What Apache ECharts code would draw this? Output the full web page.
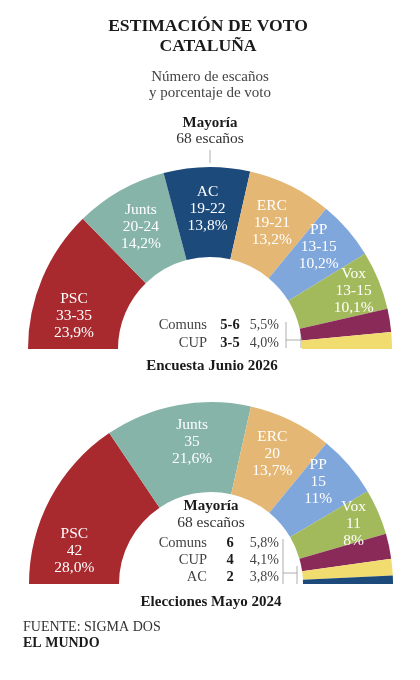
<!DOCTYPE html>
<html>

<head>
    <meta charset="utf-8">
    <title>Estimación de voto Cataluña</title>
    <script src="https://cdn.jsdelivr.net/npm/echarts@6.0.0/dist/echarts.min.js"></script>
    <style>
        html, body { margin: 0; padding: 0; background: #fff; }
    </style>
</head>

<body>
    <div id="main" style="width: 420px;height:680px;"></div>
    <script type="text/javascript">
        // datos: encuesta junio 2026
        var parties2026 = ['PSC', 'Junts', 'AC', 'ERC', 'PP', 'Vox', 'Comuns', 'CUP'];
        var seatsLow2026 = [33, 20, 19, 19, 13, 13, 5, 3];
        var seatsHigh2026 = [35, 24, 22, 21, 15, 15, 6, 5];
        var votes2026 = ['23,9%', '14,2%', '13,8%', '13,2%', '10,2%', '10,1%', '5,5%', '4,0%'];

        // datos: elecciones mayo 2024
        var parties2024 = ['PSC', 'Junts', 'ERC', 'PP', 'Vox', 'Comuns', 'CUP', 'AC'];
        var seats2024 = [42, 35, 20, 15, 11, 6, 4, 2];
        var votes2024 = ['28,0%', '21,6%', '13,7%', '11%', '8%', '5,8%', '4,1%', '3,8%'];

        var majority = 68;

        var colors = {
            PSC: '#a8292e',
            Junts: '#86b4a9',
            AC: '#1c4a7b',
            ERC: '#e4b874',
            PP: '#80a7dc',
            Vox: '#a3ba5c',
            Comuns: '#8a2a58',
            CUP: '#f0dc6f'
        };

        var serif = '"Liberation Serif", "DejaVu Serif", serif';

        // desplazamientos de etiquetas (px) por partido
        var nudge2026 = { PSC: [-7, 21], PP: [3, -10], Vox: [14, -5] };
        var nudge2024 = { PSC: [-13, 33], Junts: [7, -4], ERC: [0, -4], PP: [1, -11], Vox: [14, -5] };
        var labelled = ['PSC', 'Junts', 'AC', 'ERC', 'PP', 'Vox'];

        function half(names, values, seatText, votes) {
            var total = values.reduce(function(a, b) { return a + b; }, 0);
            var data = names.map(function(n, i) {
                return {
                    name: n,
                    value: values[i],
                    itemStyle: { color: colors[n] },
                    // solo los partidos grandes llevan etiqueta dentro
                    label: { show: labelled.indexOf(n) >= 0 && values[i] > 8 },
                    seats: seatText[i],
                    pct: votes[i]
                };
            });
            // mitad inferior invisible
            data.push({ name: '', value: total, itemStyle: { color: 'rgba(0,0,0,0)' }, label: { show: false } });
            return data;
        }

        var mid2026 = seatsLow2026.map(function(l, i) { return (l + seatsHigh2026[i]) / 2; });
        var range2026 = seatsLow2026.map(function(l, i) { return l + '-' + seatsHigh2026[i]; });
        var data2026 = half(parties2026, mid2026, range2026, votes2026);
        var data2024 = half(parties2024, seats2024, seats2024.map(String), votes2024);

        function pieSeries(data, center, nudge) {
            return {
                type: 'pie',
                silent: true,
                radius: [92, 182],
                center: center,
                startAngle: 180,
                clockwise: true,
                avoidLabelOverlap: false,
                itemStyle: { borderWidth: 0 },
                label: {
                    position: 'inside',
                    color: '#fff',
                    fontFamily: serif,
                    fontSize: 15.5,
                    lineHeight: 17,
                    formatter: function(p) {
                        return p.data.name + '\n' + p.data.seats + '\n' + p.data.pct;
                    }
                },
                labelLine: { show: false },
                labelLayout: function(p) {
                    var d = nudge[data[p.dataIndex].name];
                    return d ? { dx: d[0], dy: d[1] } : {};
                },
                data: data
            };
        }

        function txt(text, x, y, size, weight, align, color) {
            return {
                type: 'text',
                x: x,
                y: y,
                silent: true,
                style: {
                    text: text,
                    font: (weight || 'normal') + ' ' + size + 'px ' + serif,
                    fill: color || '#1a1a1a',
                    textAlign: align || 'center',
                    textVerticalAlign: 'middle'
                }
            };
        }

        function line(x1, y1, x2, y2) {
            return {
                type: 'line',
                silent: true,
                shape: { x1: x1, y1: y1, x2: x2, y2: y2 },
                style: { stroke: '#9a9a9a', lineWidth: 0.8 }
            };
        }

        // tabla de partidos pequeños dentro del hemiciclo
        function smallTable(names, seatText, votes, idx, y0, step) {
            var out = [];
            idx.forEach(function(i, k) {
                var y = y0 + k * step;
                out.push(txt(names[i], 207, y, 14.5, 'normal', 'right', '#444'));
                out.push(txt(seatText[i], 230, y, 14.5, 'bold', 'center', '#1a1a1a'));
                out.push(txt(votes[i], 279, y, 14, 'normal', 'right', '#444'));
            });
            return out;
        }

        var graphics = [
            txt('ESTIMACIÓN DE VOTO', 208, 26, 17.6, 'bold'),
            txt('CATALUÑA', 208, 46, 17.6, 'bold'),
            txt('Número de escaños', 210, 77, 15, 'normal', 'center', '#444'),
            txt('y porcentaje de voto', 210, 93, 15, 'normal', 'center', '#444'),
            txt('Mayoría', 210, 123, 15, 'bold'),
            txt(majority + ' escaños', 210, 139, 15.5, 'normal', 'center', '#333'),
            line(210, 150, 210, 163),
            line(286, 322, 286, 348),
            line(286, 340, 301, 340),
            line(301, 332, 301, 348),
            txt('Encuesta Junio 2026', 212, 366, 15, 'bold'),

            txt('Mayoría', 211, 506, 15, 'bold'),
            txt(majority + ' escaños', 211, 523, 15.5, 'normal', 'center', '#333'),
            line(283, 539, 283, 584),
            line(283, 573, 297, 573),
            line(297, 566, 297, 584),
            txt('Elecciones Mayo 2024', 211, 602, 15, 'bold'),

            txt('FUENTE: SIGMA DOS', 23, 627, 14, 'normal', 'left', '#333'),
            txt('EL MUNDO', 23, 643, 14, 'bold', 'left', '#1a1a1a')
        ];
        graphics = graphics.concat(smallTable(parties2026, range2026, votes2026, [6, 7], 325, 18));
        graphics = graphics.concat(smallTable(parties2024, seats2024.map(String), votes2024, [5, 6, 7], 543, 17));

        var myChart = echarts.init(document.getElementById('main'));
        var option = {
            backgroundColor: '#fff',
            animation: false,
            series: [
                pieSeries(data2026, [210, 349], nudge2026),
                pieSeries(data2024, [211, 584], nudge2024)
            ],
            graphic: graphics
        };
        myChart.setOption(option);
    </script>
</body>

</html>
